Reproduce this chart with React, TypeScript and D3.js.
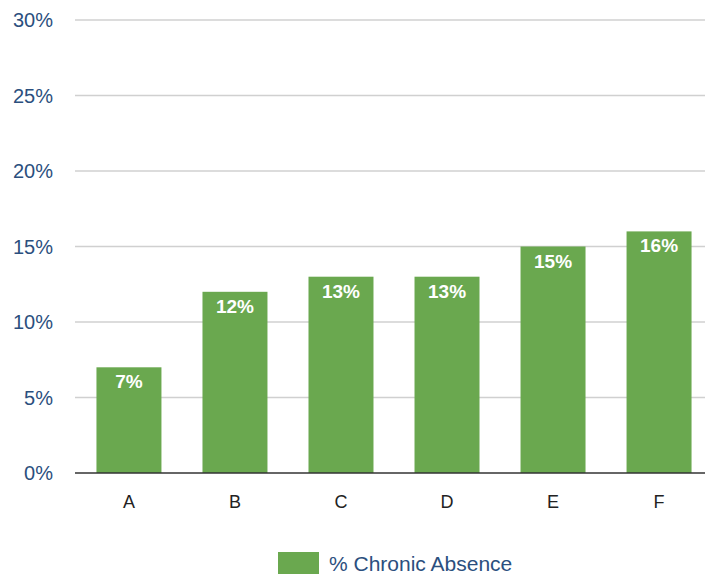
import React from "react"
import * as d3 from "d3"

const categories = ["A", "B", "C", "D", "E", "F"]
const absence = [7, 12, 13, 13, 15, 16]
const yTicks = [0, 5, 10, 15, 20, 25, 30]
const seriesName = "% Chronic Absence"

const W = 705
const H = 574
const margin = { top: 20, right: -7, bottom: 101, left: 76 }

const App: React.FC = () => {
  const x = d3.scaleBand<string>()
    .domain(categories)
    .range([margin.left, W - margin.right])
    .paddingInner(0.387)
    .paddingOuter(0.193)

  const y = d3.scaleLinear()
    .domain([0, 30])
    .range([H - margin.bottom, margin.top])

  const font = "'Liberation Sans', Arial, sans-serif"
  const green = "#6aa84f"
  const blue = "#2b4f7e"

  return (
    <svg width={W} height={H} style={{ position: "absolute", left: 0, top: 0, background: "#fff" }}>
      {yTicks.map(t => (
        <g key={t}>
          {t > 0 && (
            <line x1={75} x2={W} y1={y(t)} y2={y(t)} stroke="#d0d0d0" strokeWidth={1.5} />
          )}
          <text x={53} y={y(t)} dy="0.35em" textAnchor="end" fontFamily={font} fontSize={20} fill={blue}>
            {t}%
          </text>
        </g>
      ))}
      {categories.map((c, i) => (
        <g key={c}>
          <rect x={x(c)} y={y(absence[i])} width={x.bandwidth()} height={y(0) - y(absence[i])} fill={green} />
          <text x={(x(c) ?? 0) + x.bandwidth() / 2} y={y(absence[i]) + 21} textAnchor="middle"
            fontFamily={font} fontSize={19} fontWeight="bold" fill="#fff">
            {absence[i]}%
          </text>
          <text x={(x(c) ?? 0) + x.bandwidth() / 2} y={H - margin.bottom + 35} textAnchor="middle"
            fontFamily={font} fontSize={18} fill="#222">
            {c}
          </text>
        </g>
      ))}
      <line x1={75} x2={W} y1={y(0)} y2={y(0)} stroke="#333" strokeWidth={1.5} />
      <rect x={278} y={552} width={41} height={22} fill={green} />
      <text x={329} y={571} fontFamily={font} fontSize={21} fill={blue}>{seriesName}</text>
    </svg>
  )
}

export default App
